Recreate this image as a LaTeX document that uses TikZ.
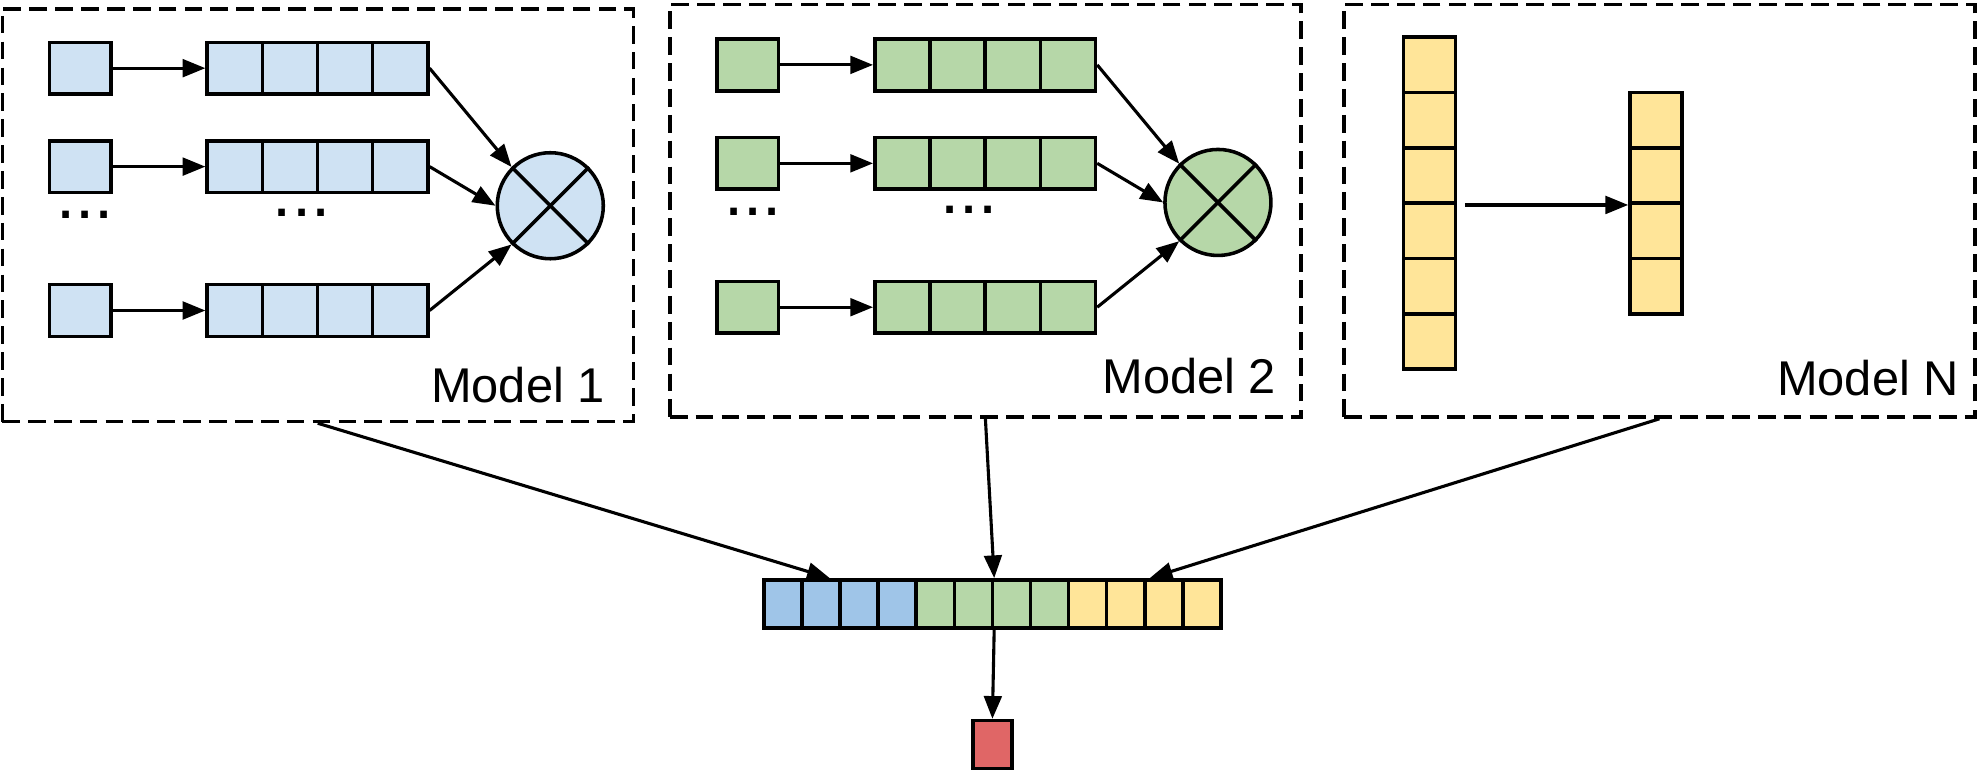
\documentclass[tikz,border=0pt]{standalone}
\usepackage{fontspec}
\setmainfont{Liberation Sans}
\usepackage{xcolor}
\usetikzlibrary{arrows.meta, positioning}
\definecolor{hblue}{HTML}{CFE2F3}
\definecolor{hgreen}{HTML}{B6D7A8}
\definecolor{hyellow}{HTML}{FFE599}
\definecolor{vblue}{HTML}{9FC5E8}
\definecolor{outred}{HTML}{E06666}
\begin{document}
\begin{tikzpicture}[
    x=0.2mm, y=-0.2mm,
    modelbox/.style={rectangle, draw=black, line width=1.5pt, dash pattern=on 2.8mm off 1.3mm, minimum width=100mm, minimum height=65.4mm, inner sep=0pt},
    inbox/.style={rectangle, draw=black, line width=1.6pt, minimum width=9.74mm, minimum height=8.2mm, inner sep=0pt},
    hcell/.style={rectangle, draw=black, line width=1.6pt, minimum width=8.74mm, minimum height=8.2mm, inner sep=0pt},
    mult/.style={circle, draw=black, line width=1.6pt, minimum size=16.8mm, inner sep=0pt},
    ncell/.style={rectangle, draw=black, fill=hyellow, line width=1.6pt, minimum width=8.22mm, minimum height=8.77mm, inner sep=0pt},
    vcell/.style={rectangle, draw=black, line width=1.6pt, minimum width=6.04mm, minimum height=7.62mm, inner sep=0pt},
    outbox/.style={rectangle, draw=black, fill=outred, line width=1.6pt, minimum width=6.2mm, minimum height=7.6mm, inner sep=0pt},
    modelname/.style={font=\fontsize{22}{26}\selectfont, inner sep=0pt, anchor=base east},
    dots/.style={font=\fontsize{31}{36}\selectfont, inner sep=0pt, anchor=base},
    arrow/.style={line width=1.4pt, -{Triangle[length=3.6mm, width=2.8mm]}}
]
\useasboundingbox (0,0) rectangle (1568,612);

\node (m1box) [modelbox] at (251.75,170.5) {};
\node (m2box) [modelbox] at (780.75,167) {};
\node (mNbox) [modelbox] at (1314.75,167) {};

\foreach \m/\dx/\dy/\fillc in {1/0/0/hblue, 2/529/-2.6/hgreen} {
  \begin{scope}[shift={(\dx,\dy)}]
    \node (m\m-mul) [mult, fill=\fillc] at (436,163) {};
    \draw[line width=1.6pt] (m\m-mul.north west) -- (m\m-mul.south east);
    \draw[line width=1.6pt] (m\m-mul.north east) -- (m\m-mul.south west);
    \foreach \r/\y in {1/54, 2/132, 3/246} {
      \node (m\m-in\r) [inbox, fill=\fillc] at (63.5,\y) {};
      \foreach \k/\x in {1/186, 2/229.7, 3/273.4, 4/317.1}
        \node (m\m-h\r-\k) [hcell, fill=\fillc] at (\x,\y) {};
      \draw [arrow] (m\m-in\r.east) -- (m\m-h\r-1.west);
    }
    \draw [arrow] (m\m-h1-4.east) -- (m\m-mul.north west);
    \draw [arrow] (m\m-h2-4.east) -- (m\m-mul.west);
    \draw [arrow] (m\m-h3-4.east) -- (m\m-mul.south west);
    \node (m\m-dotsa) [dots] at (67.6,173.5) {...};
    \node (m\m-dotsb) [dots] at (239,171.7) {...};
  \end{scope}
}

\node (m1name) [modelname] at (479.5,318.5) {Model 1};
\node (m2name) [modelname] at (1011.5,311.5) {Model 2};
\node (mNname) [modelname] at (1552.4,313.5) {Model N};

\foreach \k in {1,...,6}
  \node (tall\k) [ncell] at (1132.7,{7.5+\k*43.85}) {};
\foreach \k in {1,...,4}
  \node (short\k) [ncell] at (1312,{51.35+\k*43.85}) {};
\draw [arrow, shorten <=1.2mm] (tall3.south east) -- (short2.south west);

\foreach \k/\c in {1/vblue, 2/vblue, 3/vblue, 4/vblue, 5/hgreen, 6/hgreen, 7/hgreen, 8/hgreen, 9/hyellow, 10/hyellow, 11/hyellow, 12/hyellow}
  \node (v\k) [vcell, fill=\c] at ({590.06+\k*30.19},478.5) {};
\node (out) [outbox] at (786.3,589.9) {};

\draw [arrow] (m1box.south) -- ([xshift=-1.9mm]v2.north east);
\draw [arrow] (m2box.south) -- (v6.north east);
\draw [arrow] (mNbox.south) -- ([xshift=0.5mm]v10.north east);
\draw [arrow] (v6.south east) -- (out.north);
\end{tikzpicture}
\end{document}
